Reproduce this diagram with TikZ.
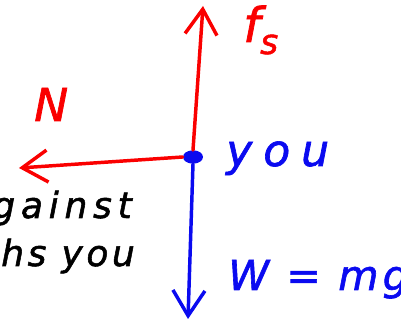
\documentclass[tikz,border=0pt]{standalone}
\usepackage{fontspec}
\setmainfont{DejaVu Sans}
\newfontfamily\handfont[LetterSpace=10, FakeBold=1.5]{DejaVu Sans}
\usetikzlibrary{arrows.meta, shapes.geometric}
\definecolor{forcered}{RGB}{250, 0, 0}
\definecolor{weightblue}{RGB}{10, 10, 240}
\tikzstyle{force} = [line width=2.6pt, line cap=round, line join=round, -{Straight Barb[length=19pt, width=24pt, line width=2.6pt]}]
\tikzstyle{hand} = [font=\handfont\itshape\fontsize{27}{30}\selectfont, inner sep=0pt]

\begin{document}
\begin{tikzpicture}[x=0.75pt, y=-0.75pt]
    \useasboundingbox (0,0) rectangle (401,327);
    \clip (0,0) rectangle (401,327);

    % The body
    \node[ellipse, fill=weightblue, minimum width=15pt, minimum height=10pt, inner sep=0pt] (body) at (193,157) {};
    \coordinate (top) at (203,6);
    \coordinate (left) at (19,168);
    \coordinate (bottom) at (188,319);

    % Forces
    \draw[force, forcered] (body.north) -- (top);
    \draw[force, forcered] (body.west) -- (left);
    \draw[force, weightblue] (body.south) -- (bottom);

    % Labels
    \node[hand, text=forcered, anchor=base west] (fs) at (243,42) {\fontsize{36}{36}\selectfont f\raisebox{-9pt}{\fontsize{26}{26}\selectfont s}};
    \node[hand, text=forcered, anchor=base west] (N) at (34,121) {\fontsize{34}{34}\selectfont N};
    \node[hand, text=weightblue, anchor=base west] (you) at (226,166) {\addfontfeatures{LetterSpace=25}\fontsize{33}{33}\selectfont you};
    \node[hand, text=weightblue, anchor=base west] (w) at (228,290) {\fontsize{31}{31}\selectfont W = mg};

    % Text on the left
    \node[hand, anchor=base east] (against) at (132,218) {\addfontfeatures{LetterSpace=16}against};
    \node[hand, anchor=base west] (push) at (1,266) {hs you};
\end{tikzpicture}
\end{document}
